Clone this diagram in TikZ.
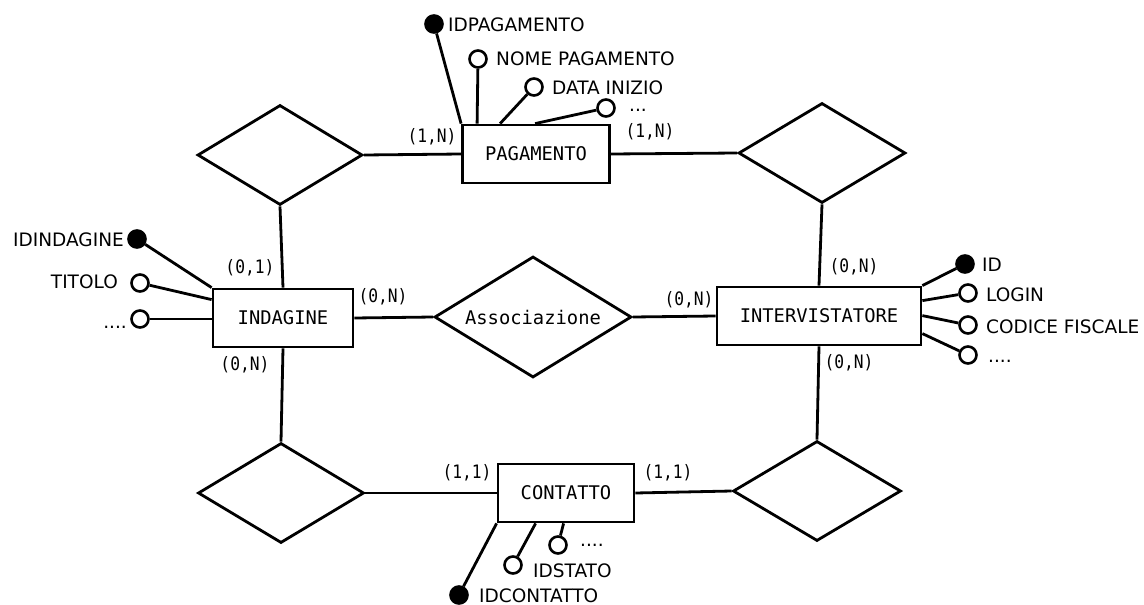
\documentclass[tikz,border=0pt]{standalone}
\usepackage{fontspec}
\setmainfont{DejaVu Sans}
\newfontfamily\monof{DejaVu Sans Mono}
\newfontfamily\cardf[FakeStretch=0.88]{DejaVu Sans Mono}
\usetikzlibrary{shapes.geometric,calc}
\tikzset{
  ent/.style={draw, rectangle, line width=2.8pt, inner sep=0pt, font=\monof\fontsize{18.8}{20}\selectfont},
  rel/.style={draw, diamond, line width=2.8pt, inner sep=0pt, font=\monof\fontsize{18.8}{20}\selectfont},
  conn/.style={line width=2.8pt},
  keyatt/.style={circle, draw, fill=black, line width=2.6pt, minimum size=17pt, inner sep=0pt},
  plainatt/.style={circle, draw, fill=white, line width=2.6pt, minimum size=17pt, inner sep=0pt},
  lab/.style={inner sep=0pt, font=\fontsize{18.5}{20}\selectfont},
  card/.style={inner sep=0pt, font=\cardf\fontsize{18.5}{20}\selectfont}
}
\begin{document}
\begin{tikzpicture}[x=1pt,y=-1pt]
\useasboundingbox[fill=white] (0,0) rectangle (1144,605);
% entities
\node[ent, minimum width=147pt, minimum height=58pt] (pag) at (536,154) {PAGAMENTO};
\node[ent, minimum width=140pt, minimum height=58pt] (ind) at (283,318) {INDAGINE};
\node[ent, minimum width=204pt, minimum height=58pt] (int) at (819,316) {INTERVISTATORE};
\node[ent, minimum width=136pt, minimum height=58pt] (con) at (566,493) {CONTATTO};
% relations
\node[rel, minimum width=165pt, minimum height=100pt] (r1) at (280,155) {};
\node[rel, minimum width=167pt, minimum height=100pt] (r2) at (822,153) {};
\node[rel, aspect=1.63, minimum width=197pt, minimum height=121pt] (ass) at (533,317) {Associazione};
\node[rel, minimum width=166pt, minimum height=100pt] (r3) at (281,493) {};
\node[rel, minimum width=168pt, minimum height=100pt] (r4) at (817,491) {};
% connectors
\draw[conn] (r1.east) -- (pag.west);
\draw[conn] (pag.east) -- (r2.west);
\draw[conn] (r1.south) -- (ind.north);
\draw[conn] (r2.south) -- (int.north);
\draw[conn] (ind.east) -- (ass.west);
\draw[conn] (ass.east) -- (int.west);
\draw[conn] (ind.south) -- (r3.north);
\draw[conn] (int.south) -- (r4.north);
\draw[conn] (r3.east) -- (con.west);
\draw[conn] (con.east) -- (r4.west);
% cardinalities
\node[card] (c1) at (432,137) {(1,N)};
\node[card] (c2) at (650,132) {(1,N)};
\node[card] (c3) at (250,268) {(0,1)};
\node[card] (c4) at (383,297) {(0,N)};
\node[card] (c5) at (245,365) {(0,N)};
\node[card] (c6) at (689,300) {(0,N)};
\node[card] (c7) at (854,267) {(0,N)};
\node[card] (c8) at (849,363) {(0,N)};
\node[card] (c9) at (467,473) {(1,1)};
\node[card] (c10) at (668,473) {(1,1)};
% PAGAMENTO attributes
\node[keyatt] (k1) at (434,24) {};
\node[plainatt] (a1) at (478,59) {};
\node[plainatt] (a2) at (534,87) {};
\node[plainatt] (a3) at (606,108) {};
\draw[conn] (k1) -- (pag.north west);
\draw[conn] (a1) -- ($(pag.north west)+(16,0)$);
\draw[conn] (a2) -- ($(pag.north west)+(39,0)$);
\draw[conn] (a3) -- ($(pag.north west)+(74,0)$);
\node[lab, anchor=base west] (l1) at (448,31) {IDPAGAMENTO};
\node[lab, anchor=base west] (l2) at (496,65) {NOME PAGAMENTO};
\node[lab, anchor=base west] (l3) at (552,94) {DATA INIZIO};
\node[lab, anchor=base west] (l4) at (629,111) {...};
% INDAGINE attributes
\node[keyatt] (k2) at (137,239) {};
\node[plainatt] (a4) at (140,283) {};
\node[plainatt] (a5) at (140,319) {};
\draw[conn] (k2) -- (ind.north west);
\draw[conn] (a4) -- ($(ind.north west)+(0,12)$);
\draw[conn] (a5) -- (a5 -| ind.west);
\node[lab, anchor=base east] (l5) at (124,246) {IDINDAGINE};
\node[lab, anchor=base east] (l6) at (118,288) {TITOLO};
\node[lab, anchor=base east] (l7) at (127,328) {....};
% INTERVISTATORE attributes
\node[keyatt] (k3) at (965,264) {};
\node[plainatt] (a6) at (968,293) {};
\node[plainatt] (a7) at (968,325) {};
\node[plainatt] (a8) at (968,355) {};
\draw[conn] (k3) -- (int.north east);
\draw[conn] (a6) -- ($(int.north east)+(0,15)$);
\draw[conn] (a7) -- ($(int.north east)+(0,30)$);
\draw[conn] (a8) -- ($(int.north east)+(0,48)$);
\node[lab, anchor=base west] (l8) at (982,271) {ID};
\node[lab, anchor=base west] (l9) at (986,301) {LOGIN};
\node[lab, anchor=base west] (l10) at (986,333) {CODICE FISCALE};
\node[lab, anchor=base west] (l11) at (988,362) {....};
% CONTATTO attributes
\node[keyatt] (k4) at (459,595) {};
\node[plainatt] (a9) at (513,565) {};
\node[plainatt] (a10) at (558,545) {};
\draw[conn] (k4) -- (con.south west);
\draw[conn] (a9) -- ($(con.south west)+(39,0)$);
\draw[conn] (a10) -- ($(con.south west)+(67,0)$);
\node[lab, anchor=base west] (l12) at (479,602) {IDCONTATTO};
\node[lab, anchor=base west] (l13) at (533,577) {IDSTATO};
\node[lab, anchor=base west] (l14) at (580,546) {....};
\end{tikzpicture}
\end{document}
